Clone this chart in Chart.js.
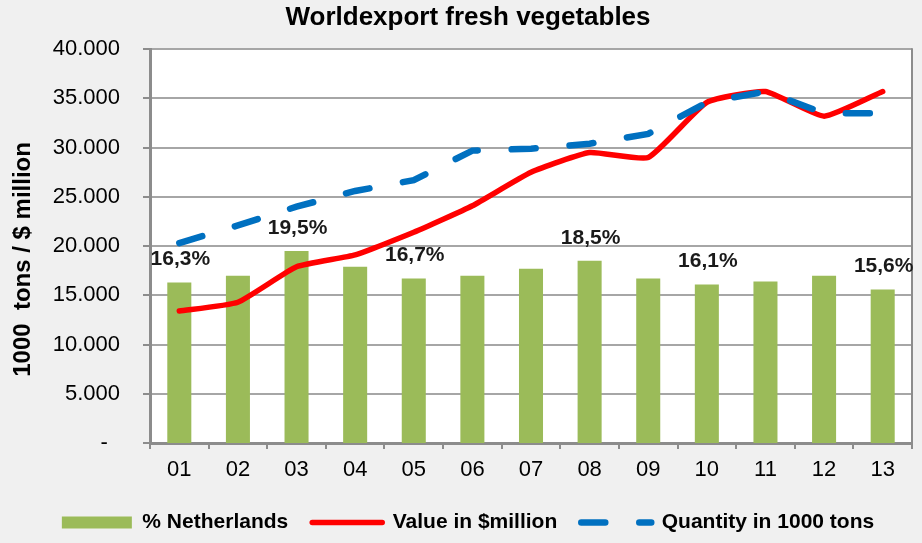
<!DOCTYPE html>
<html>
<head>
<meta charset="utf-8">
<script src="https://cdn.jsdelivr.net/npm/chart.js@4.4.1/dist/chart.umd.min.js"></script>
<style>
  html, body { margin: 0; padding: 0; background: #f0f0f0; }
  #wrap { width: 922px; height: 543px; }
</style>
</head>
<body>
<div id="wrap"><canvas id="c" width="922" height="543"></canvas></div>
<script>
// ---- data ----
const categories = ['01','02','03','04','05','06','07','08','09','10','11','12','13'];
const netherlandsPct = [16.3, 17.0, 19.5, 17.9, 16.7, 17.0, 17.7, 18.5, 16.7, 16.1, 16.4, 17.0, 15.6];
const valueMillion   = [13400, 14300, 17900, 19100, 21400, 24100, 27500, 29500, 29000, 34600, 35700, 33200, 35700];
const quantityKTons  = [20300, 22100, 24000, 25600, 26700, 29700, 29900, 30400, 31400, 34600, 35700, 33500, 33500];
const pctLabels      = ['16,3%', '', '19,5%', '', '16,7%', '', '', '18,5%', '', '16,1%', '', '', '15,6%'];
const seriesNames    = ['% Netherlands', 'Value in $million', 'Quantity in 1000 tons'];
const chartTitle     = 'Worldexport fresh vegetables';
const yAxisTitle     = '1000  tons / $ million    ';

const FONT = "'Liberation Sans', Arial, sans-serif";
const GREEN = '#9bbb59', RED = '#ff0000', BLUE = '#0070c0';
const GRID = '#a6a6a6', AXIS = '#8c8c8c';

const bgPlugin = {
  id: 'bg',
  beforeDraw(chart) {
    const {ctx, chartArea: a} = chart;
    ctx.save();
    ctx.fillStyle = '#f0f0f0';
    ctx.fillRect(0, 0, chart.width, chart.height);
    ctx.fillStyle = '#ffffff';
    ctx.fillRect(a.left, a.top, a.right - a.left, a.bottom - a.top);
    ctx.restore();
  },
  beforeDatasetsDraw(chart) {
    const {ctx, chartArea: a} = chart;
    ctx.save();
    ctx.strokeStyle = AXIS;
    ctx.lineWidth = 2;
    ctx.beginPath();
    ctx.moveTo(a.right, a.top - 1);
    ctx.lineTo(a.right, a.bottom);
    ctx.stroke();
    ctx.restore();
  }
};

const labelPlugin = {
  id: 'barLabels',
  afterDatasetsDraw(chart) {
    const {ctx} = chart;
    const meta = chart.getDatasetMeta(0);
    ctx.save();
    ctx.font = 'bold 21px ' + FONT;
    ctx.fillStyle = '#1a1a1a';
    ctx.textAlign = 'center';
    ctx.textBaseline = 'middle';
    meta.data.forEach((el, i) => {
      const t = pctLabels[i];
      if (t) ctx.fillText(t, el.x + 1, el.y - 23);
    });
    ctx.restore();
  }
};

new Chart(document.getElementById('c'), {
  data: {
    labels: categories,
    datasets: [
      {
        type: 'bar', label: seriesNames[0], data: netherlandsPct, yAxisID: 'y2',
        backgroundColor: GREEN, borderWidth: 0,
        categoryPercentage: 1.0, barPercentage: 0.41, order: 2
      },
      {
        type: 'line', label: seriesNames[1], data: valueMillion, yAxisID: 'y',
        borderColor: RED, borderWidth: 5.5, tension: 0.15, pointRadius: 0,
        borderCapStyle: 'round', borderJoinStyle: 'round', fill: false, order: 1
      },
      {
        type: 'line', label: seriesNames[2], data: quantityKTons, yAxisID: 'y',
        borderColor: BLUE, borderWidth: 6.5, tension: 0, pointRadius: 0,
        borderDash: [24, 34], borderCapStyle: 'round', fill: false, order: 0
      }
    ]
  },
  options: {
    responsive: false,
    animation: false,
    layout: { padding: { left: 24, right: 10, top: 0, bottom: 0 } },
    plugins: {
      tooltip: { enabled: false },
      title: {
        display: true, text: chartTitle, color: '#000',
        font: { family: FONT, size: 26, weight: 'bold' },
        padding: { top: 2, bottom: 16 }
      },
      legend: {
        position: 'bottom',
        labels: {
          usePointStyle: true, pointStyleWidth: 70, boxHeight: 12,
          padding: 24, color: '#000',
          font: { family: FONT, size: 21, weight: 'bold' },
          generateLabels(chart) {
            return chart.data.datasets.map((ds, i) => {
              if (ds.type === 'bar') {
                return { text: ds.label, datasetIndex: i, pointStyle: 'rect',
                  fillStyle: GREEN, strokeStyle: GREEN, lineWidth: 0, hidden: false, fontColor: '#000' };
              }
              return { text: ds.label, datasetIndex: i, pointStyle: 'line',
                fillStyle: ds.borderColor, strokeStyle: ds.borderColor, lineWidth: ds.borderWidth,
                lineDash: ds.borderDash || [], lineCap: 'round', hidden: false, fontColor: '#000' };
            });
          }
        }
      }
    },
    scales: {
      x: {
        type: 'category', offset: true,
        afterFit(scale) { scale.height = 45; },
        grid: { display: true, drawOnChartArea: false, drawTicks: true, tickLength: 6,
                offset: true, color: AXIS, lineWidth: 2 },
        border: { display: true, color: AXIS, width: 3 },
        ticks: { color: '#000', padding: 8, font: { family: FONT, size: 22 } }
      },
      y: {
        position: 'left', min: 0, max: 40000,
        afterFit(scale) { scale.width = 126; },
        grid: { color: GRID, lineWidth: 2, drawTicks: true, tickLength: 7, tickColor: AXIS },
        border: { display: true, color: AXIS, width: 3 },
        ticks: {
          stepSize: 5000, padding: 23, color: '#000',
          font: { family: FONT, size: 22 },
          callback(v) {
            if (v === 0) return '-\u2007';
            return v.toString().replace(/\B(?=(\d{3})+(?!\d))/g, '.');
          }
        },
        title: {
          display: true, text: yAxisTitle, color: '#000',
          font: { family: FONT, size: 24, weight: 'bold' },
          padding: { top: -15 }
        }
      },
      y2: { display: false, min: 0, max: 40 }
    }
  },
  plugins: [bgPlugin, labelPlugin]
});
</script>
</body>
</html>
